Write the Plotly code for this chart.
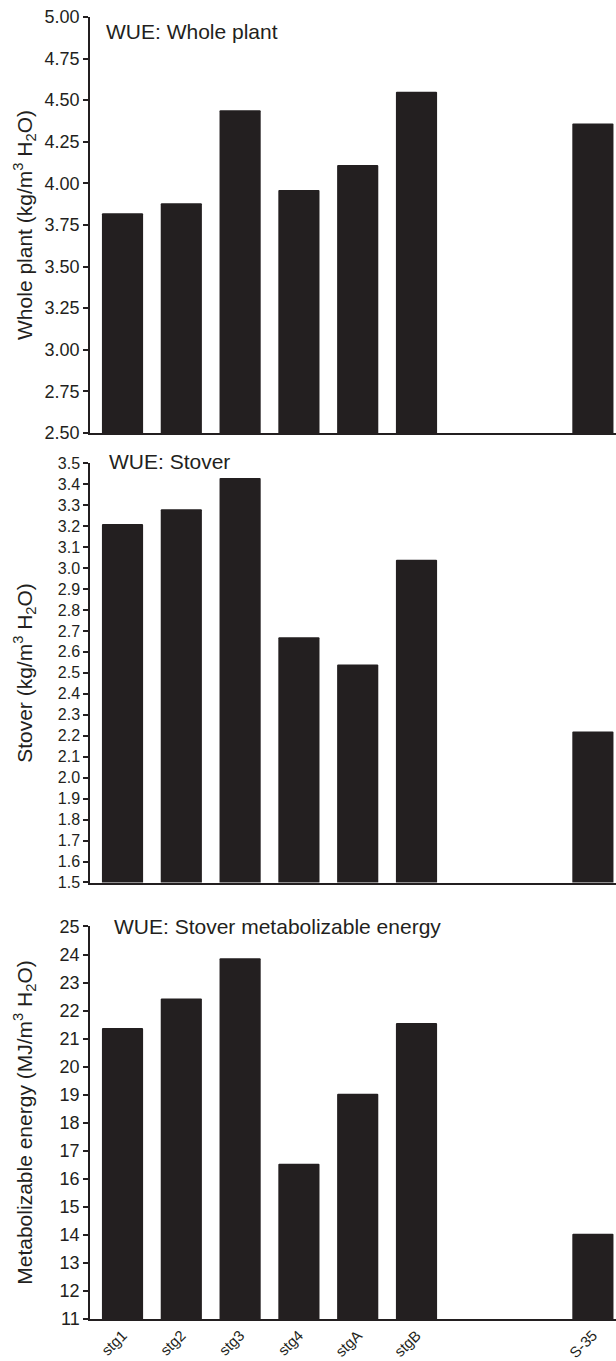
import plotly.graph_objects as go
from plotly.subplots import make_subplots

# ---- data ----
genotypes = ["stg1", "stg2", "stg3", "stg4", "stgA", "stgB", "S-35"]
gap_slots = ["gap1", "gap2"]          # two empty category slots before S-35
whole_plant = [3.82, 3.88, 4.44, 3.96, 4.11, 4.55, 4.36]
stover = [3.21, 3.28, 3.43, 2.67, 2.54, 3.04, 2.22]
metab_energy = [21.38, 22.43, 23.87, 16.54, 19.03, 21.56, 14.04]

panel_titles = ["WUE: Whole plant", "WUE: Stover", "WUE: Stover metabolizable energy"]
y_titles = ["Whole plant (kg/m<sup>3</sup> H<sub>2</sub>O)",
            "Stover (kg/m<sup>3</sup> H<sub>2</sub>O)",
            "Metabolizable energy (MJ/m<sup>3</sup> H<sub>2</sub>O)"]
y_ranges = [(2.5, 5.0), (1.5, 3.5), (11, 25)]
y_tickvals = [[round(2.5 + 0.25 * i, 2) for i in range(11)],
              [round(1.5 + 0.1 * i, 1) for i in range(21)],
              list(range(11, 26))]
y_tickfmt = [".2f", ".1f", "d"]

axis_order = genotypes[:6] + gap_slots + genotypes[6:]

INK = "#231f20"
FONT = "Liberation Sans, Arial"
W, H = 616, 1361
ML, MR, MT, MB = 90, 0, 17, 41.7
plot_h = H - MT - MB

def dom(top_px, bot_px):
    return [1 - (bot_px - MT) / plot_h, 1 - (top_px - MT) / plot_h]

domains = [dom(17, 433), dom(463.3, 882.7), dom(926.7, 1319.3)]
tick_fonts = [18, 16, 18]
title_pos = [(0.027, 0.966), (0.032, 1.004), (0.041, 1.0)]

fig = make_subplots(rows=3, cols=1)

for i, vals in enumerate([whole_plant, stover, metab_energy]):
    lookup = dict(zip(genotypes, vals))
    xs = axis_order
    ys = [lookup.get(c) for c in xs]
    fig.add_trace(go.Bar(x=xs, y=ys, width=0.70,
                         marker=dict(color=INK, line=dict(width=0), cornerradius=1),
                         showlegend=False, hoverinfo="x+y"), row=i + 1, col=1)

for i in range(3):
    ax = "" if i == 0 else str(i + 1)
    fig.layout["xaxis" + ax].update(
        type="category", categoryorder="array", categoryarray=axis_order,
        range=[-0.553, 8.393], domain=[0, 1],
        showline=True, linecolor=INK, linewidth=1.5, showgrid=False, zeroline=False,
        ticks="", tickvals=genotypes, ticktext=genotypes,
        showticklabels=(i == 2), tickangle=-45,
        tickfont=dict(family=FONT, size=15, color=INK),
        automargin=False, fixedrange=True)
    fig.layout["yaxis" + ax].update(
        range=list(y_ranges[i]), domain=domains[i],
        showline=True, linecolor=INK, linewidth=1.5, showgrid=False, zeroline=False,
        ticks="outside", ticklen=5, tickwidth=1.5, tickcolor=INK,
        tickvals=y_tickvals[i], tickformat=y_tickfmt[i],
        tickfont=dict(family=FONT, size=tick_fonts[i], color=INK),
        automargin=False)
    xr = "x" + ax
    yr = "y" + ax
    fig.add_annotation(text=panel_titles[i], xref=xr + " domain", yref=yr + " domain",
                       x=title_pos[i][0], y=title_pos[i][1], xanchor="left", yanchor="middle",
                       showarrow=False,
                       font=dict(family=FONT, size=21, color=INK))
    fig.add_annotation(text=y_titles[i], xref="paper", yref=yr + " domain",
                       x=(25 - ML) / (W - ML - MR), y=0.5, xanchor="center", yanchor="middle",
                       textangle=-90, showarrow=False,
                       font=dict(family=FONT, size=21, color=INK))

fig.update_layout(width=W, height=H, margin=dict(l=ML, r=MR, t=MT, b=MB),
                  plot_bgcolor="white", paper_bgcolor="white", bargap=0.3)

fig.write_html("out.html", config={"displayModeBar": False},
               post_script="document.body.style.margin='0';document.body.style.overflow='hidden';")
